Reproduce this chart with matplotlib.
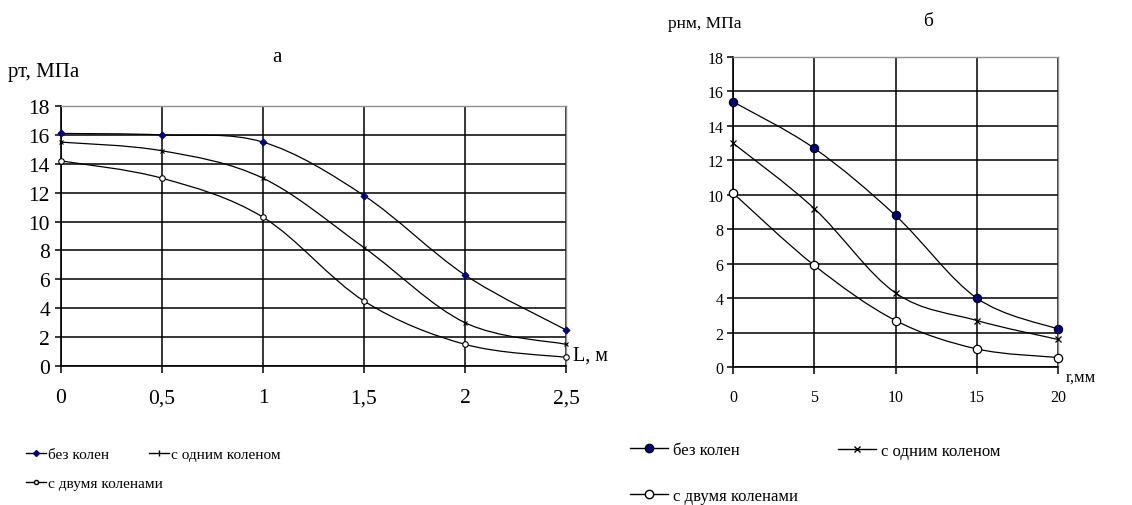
"""
Два графика давления: а) по длине L, б) по радиусу r
"""

import matplotlib

matplotlib.use("Agg")
import matplotlib.pyplot as plt
from matplotlib.path import Path
from matplotlib.patches import PathPatch
from matplotlib.lines import Line2D

plt.rcParams["font.family"] = ["Liberation Serif", "DejaVu Serif"]

# ── данные: график а ──────────────────────────────────────
L_m = [0, 0.5, 1, 1.5, 2, 2.5]
a_bez = [16.1, 16.0, 15.5, 11.8, 6.3, 2.5]
a_odno = [15.5, 14.9, 13.0, 8.2, 3.0, 1.5]
a_dva = [14.2, 13.0, 10.3, 4.5, 1.5, 0.6]
a_xticks = [0, 0.5, 1, 1.5, 2, 2.5]
a_xlabels = ["0", "0,5", "1", "1,5", "2", "2,5"]

# ── данные: график б ──────────────────────────────────────
r_mm = [0, 5, 10, 15, 20]
b_bez = [15.4, 12.7, 8.8, 4.0, 2.2]
b_odno = [13.0, 9.2, 4.3, 2.7, 1.6]
b_dva = [10.1, 5.9, 2.7, 1.05, 0.55]

yticks = list(range(0, 19, 2))
names = ["без колен", "с одним коленом", "с двумя коленами"]
NAVY = "#000080"


def smooth_path(xs, ys):
    """сглаженная линия (как в Excel) через кубические кривые Безье"""
    pts = list(zip(xs, ys))
    verts = [pts[0]]
    codes = [Path.MOVETO]
    n = len(pts)
    for i in range(n - 1):
        p0 = pts[i - 1] if i > 0 else pts[i]
        p1 = pts[i]
        p2 = pts[i + 1]
        p3 = pts[i + 2] if i + 2 < n else pts[i + 1]
        c1 = (p1[0] + (p2[0] - p0[0]) / 6, p1[1] + (p2[1] - p0[1]) / 6)
        c2 = (p2[0] - (p3[0] - p1[0]) / 6, p2[1] - (p3[1] - p1[1]) / 6)
        verts += [c1, c2, p2]
        codes += [Path.CURVE4] * 3
    return Path(verts, codes)


def draw_series(ax, xs, ys, marker, ms, face, edge, mew):
    ax.add_patch(
        PathPatch(smooth_path(xs, ys), fill=False, edgecolor="black", lw=0.9, zorder=3)
    )
    ax.plot(
        xs,
        ys,
        ls="none",
        marker=marker,
        ms=ms,
        mfc=face,
        mec=edge,
        mew=mew,
        zorder=4,
        clip_on=False,
    )


def style_axes(ax, tick_fs, xpad, ypad):
    ax.set_ylim(0, 18)
    ax.set_yticks(yticks)
    ax.grid(True, color="black", lw=1.1)
    ax.set_axisbelow(True)
    for s in ["top", "right"]:
        ax.spines[s].set_color("#909090")
        ax.spines[s].set_linewidth(1.0)
    for s in ["left", "bottom"]:
        ax.spines[s].set_color("black")
        ax.spines[s].set_linewidth(1.2)
    ax.tick_params(axis="x", direction="out", length=5, width=1.1, pad=xpad, labelsize=tick_fs)
    ax.tick_params(axis="y", direction="out", length=4, width=1.1, pad=ypad, labelsize=tick_fs)


def legend_item(handle, label, x_px, y_px, fs, hlen, hpad):
    """один пункт легенды: x_px — левый край значка, y_px — центр строки"""
    fig.legend(
        [handle],
        [label],
        loc="center left",
        bbox_to_anchor=(x_px / 1132, 1 - y_px / 506),
        frameon=False,
        fontsize=fs,
        handlelength=hlen,
        handletextpad=hpad,
        borderpad=0,
        borderaxespad=0,
    )


fig = plt.figure(figsize=(11.32, 5.06), dpi=100)

# ── график а ──────────────────────────────────────────────
ax1 = fig.add_axes([61 / 1132, 1 - 367 / 506, 505 / 1132, 260 / 506])
style_axes(ax1, 15.5, 11, 4)
ax1.set_xlim(0, 2.5)
ax1.set_xticks(a_xticks)
ax1.set_xticklabels(a_xlabels)
draw_series(ax1, L_m, a_bez, "D", 3.5, NAVY, NAVY, 0.8)
draw_series(ax1, L_m, a_odno, "x", 3.5, "black", "black", 0.8)
draw_series(ax1, L_m, a_dva, "o", 4, "white", "black", 0.8)

fig.text(8 / 1132, 1 - 72 / 506, "рт, МПа", fontsize=15, va="center")
fig.text(277 / 1132, 1 - 58 / 506, "а", fontsize=15, ha="center", va="center")
fig.text(573 / 1132, 1 - 356 / 506, "L, м", fontsize=14.5, va="center")

legend_item(
    Line2D([], [], color="black", lw=1, marker="D", ms=3, mfc=NAVY, mec=NAVY),
    names[0], 26, 455, 11, 1.3, 0.15,
)
legend_item(
    Line2D([], [], color="black", lw=1, marker="|", ms=4, mec="black"),
    names[1], 149, 455, 11, 1.3, 0.15,
)
legend_item(
    Line2D([], [], color="black", lw=1, marker="o", ms=3, mfc="white", mec="black"),
    names[2], 26, 484, 11, 1.3, 0.15,
)

# ── график б ──────────────────────────────────────────────
ax2 = fig.add_axes([733 / 1132, 1 - 368 / 506, 325 / 1132, 310 / 506])
style_axes(ax2, 11.5, 11, 3)
ax2.set_xlim(0, 20)
ax2.set_xticks(r_mm)
draw_series(ax2, r_mm, b_bez, "o", 6, NAVY, "black", 0.8)
draw_series(ax2, r_mm, b_odno, "x", 5, "black", "black", 0.9)
draw_series(ax2, r_mm, b_dva, "o", 6, "white", "black", 0.9)

fig.text(668 / 1132, 1 - 24 / 506, "рнм, МПа", fontsize=12.5, va="center")
fig.text(928 / 1132, 1 - 22 / 506, "б", fontsize=14, ha="center", va="center")
fig.text(1066 / 1132, 1 - 378 / 506, "r,мм", fontsize=12, va="center")

legend_item(
    Line2D([], [], color="black", lw=1, marker="o", ms=6, mfc=NAVY, mec="black"),
    names[0], 630, 451, 12, 2.3, 0.3,
)
legend_item(
    Line2D([], [], color="black", lw=1, marker="x", ms=4, mec="black"),
    names[1], 838, 452, 12, 2.3, 0.3,
)
legend_item(
    Line2D([], [], color="black", lw=1, marker="o", ms=6, mfc="white", mec="black"),
    names[2], 630, 497, 12, 2.3, 0.3,
)

fig.savefig("out.png", dpi=100)
plt.close(fig)
